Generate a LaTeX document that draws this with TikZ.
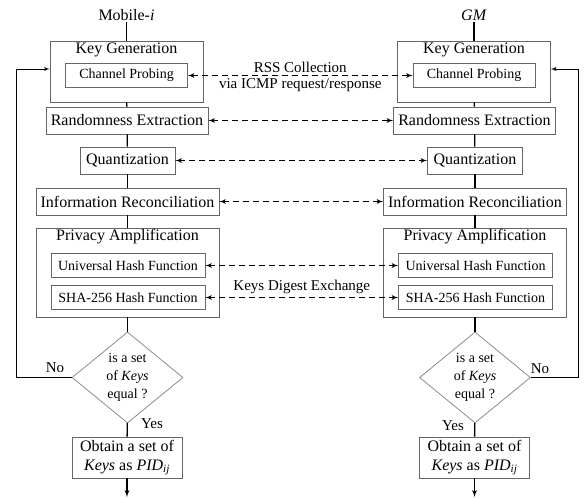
\documentclass[tikz,border=0pt]{standalone}
\usepackage{fontspec}
\setmainfont{Liberation Serif}
\usetikzlibrary{arrows,shapes.geometric}

\tikzset{
  block/.style={draw=black!60, line width=0.8pt, inner sep=2pt, align=center,
                font=\fontsize{16}{19}\selectfont},
  subblock/.style={block, font=\fontsize{14}{17}\selectfont},
  frame/.style={draw=black!60, line width=0.8pt},
  heading/.style={inner sep=1pt, font=\fontsize{16}{19}\selectfont},
  decision/.style={diamond, draw=black!45, line width=0.8pt, aspect=1.22, inner sep=0pt,
                   minimum width=111pt, minimum height=91pt, align=center,
                   font=\fontsize{14}{18}\selectfont},
  link/.style={line width=1.3pt},
  retry/.style={line width=0.9pt, ->, >=latex'},
  exchange/.style={<->, >=latex', line width=1.2pt, dash pattern=on 6pt off 4pt},
  lbl/.style={inner sep=1pt, font=\fontsize{15}{18}\selectfont},
}

\begin{document}
\begin{tikzpicture}[x=1pt,y=-1pt,node distance=347.5pt]
  \useasboundingbox (0,0) rectangle (588,498);

  % left column: Mobile-i
  \node[heading] (L-mob) at (126.5,15) {Mobile-\textit{i}};
  \node[frame, minimum width=153pt, minimum height=61pt] (L-kg) at (126.5,71.5) {};
  \node[heading] (L-kgt) at (126.5,50) {Key Generation};
  \node[subblock, minimum width=122pt, minimum height=24pt] (L-cp) at (126.5,75.5) {Channel Probing};
  \node[block, minimum width=162pt, minimum height=27pt] (L-re) at (127,120.5) {Randomness Extraction};
  \node[block, minimum width=95pt, minimum height=27pt] (L-qu) at (127.5,160.5) {Quantization};
  \node[block, minimum width=183pt, minimum height=27pt] (L-ir) at (127.5,201.5) {Information Reconciliation};
  \node[frame, minimum width=183pt, minimum height=89pt] (L-pa) at (127.5,272.5) {};
  \node[heading] (L-pat) at (127.5,237) {Privacy Amplification};
  \node[subblock, minimum width=154pt, minimum height=24pt] (L-uh) at (128,265.5) {Universal Hash Function};
  \node[subblock, minimum width=154pt, minimum height=24pt] (L-sh) at (128,297.5) {SHA-256 Hash Function};
  \node[decision] (L-dc) at (127.5,377.5) {is a set\\of \textit{Keys}\\equal ?};
  \node[block, minimum width=110pt, minimum height=41pt, font=\fontsize{16}{19}\selectfont]
       (L-ob) at (127,457.5) {Obtain a set of\\\textit{Keys} as \textit{PID}\textsubscript{\textit{ij}}};
  \node[coordinate] (L-end) at (127,497) {};

  % right column: GM
  \node[heading] (R-mob) [right of=L-mob] {\textit{GM}};
  \node[frame, minimum width=153pt, minimum height=61pt] (R-kg) [right of=L-kg] {};
  \node[heading] (R-kgt) [right of=L-kgt] {Key Generation};
  \node[subblock, minimum width=122pt, minimum height=24pt] (R-cp) [right of=L-cp] {Channel Probing};
  \node[block, minimum width=162pt, minimum height=27pt] (R-re) [right of=L-re] {Randomness Extraction};
  \node[block, minimum width=95pt, minimum height=27pt] (R-qu) [right of=L-qu] {Quantization};
  \node[block, minimum width=183pt, minimum height=27pt] (R-ir) [right of=L-ir] {Information Reconciliation};
  \node[frame, minimum width=183pt, minimum height=89pt] (R-pa) [right of=L-pa] {};
  \node[heading] (R-pat) [right of=L-pat] {Privacy Amplification};
  \node[subblock, minimum width=154pt, minimum height=24pt] (R-uh) [right of=L-uh] {Universal Hash Function};
  \node[subblock, minimum width=154pt, minimum height=24pt] (R-sh) [right of=L-sh] {SHA-256 Hash Function};
  \node[decision] (R-dc) [right of=L-dc] {is a set\\of \textit{Keys}\\equal ?};
  \node[block, minimum width=110pt, minimum height=41pt, font=\fontsize{16}{19}\selectfont]
       (R-ob) [right of=L-ob] {Obtain a set of\\\textit{Keys} as \textit{PID}\textsubscript{\textit{ij}}};
  \node[coordinate] (R-end) [right of=L-end] {};

  % vertical flow
  \foreach \s in {L,R} {
    \draw[link] (\s-mob) -- (\s-kg);
    \draw[link] (\s-kg) -- (\s-re);
    \draw[link] (\s-re) -- (\s-qu);
    \draw[link] (\s-qu) -- (\s-ir);
    \draw[link] (\s-ir) -- (\s-pa);
    \draw[link] (\s-pa) -- (\s-dc);
    \draw[link] (\s-dc) -- (\s-ob);
    \draw[link, ->, >=latex'] (\s-ob) -- (\s-end);
  }

  % exchanges between the two sides
  \draw[exchange] (L-cp) -- (R-cp)
    node[lbl, midway, above, inner sep=2.5pt] {RSS Collection}
    node[lbl, midway, below, inner sep=2.5pt] {via ICMP request/response};
  \draw[exchange] (L-re) -- (R-re);
  \draw[exchange] (L-qu) -- (R-qu);
  \draw[exchange] (L-ir) -- (R-ir);
  \draw[exchange] (L-uh) -- (R-uh);
  \draw[exchange] (L-sh) -- (R-sh)
    node[lbl, midway, above, inner sep=3pt] {Keys Digest Exchange};

  % retry when keys differ
  \coordinate (L-top) at (16,69);
  \coordinate (R-top) at (578,69);
  \draw[retry] (L-dc.west) -| (L-top) -- (L-kg.west |- L-top);
  \draw[retry] (R-dc.east) -| (R-top) -- (R-kg.east |- R-top);
  \node[lbl] (L-no) at (55,368) {No};
  \node[lbl] (R-no) at (540,369) {No};
  \node[lbl] (L-yes) at (152,424) {Yes};
  \node[lbl] (R-yes) at (453,426) {Yes};
\end{tikzpicture}
\end{document}
